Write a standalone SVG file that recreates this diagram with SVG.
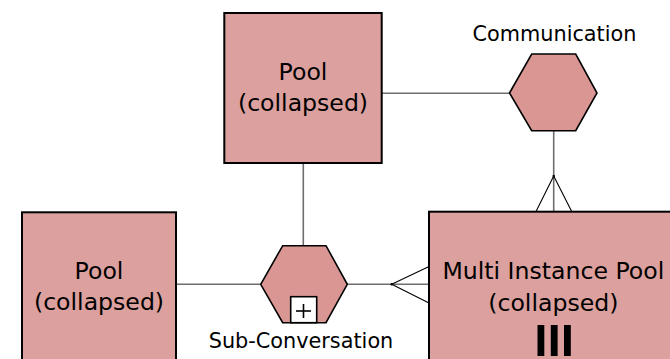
<svg xmlns="http://www.w3.org/2000/svg" width="670" height="359" viewBox="0 0 670 359">
<style>
.pool{fill:#dca19e;stroke:#000;stroke-width:2}
.hex{fill:#d99693;stroke:#000;stroke-width:1.6}
.conn{stroke:#6e6e6e;stroke-width:1.6;fill:none}
.crow{stroke:#000;stroke-width:1.1;fill:none}
.t{font-family:"DejaVu Sans",Verdana,sans-serif;font-size:23.6px;fill:#000;text-anchor:middle}
.lbl{font-family:"DejaVu Sans",Verdana,sans-serif;font-size:20.8px;fill:#000;text-anchor:middle}
</style>
<rect width="670" height="359" fill="#fff"/>
<g id="connectors">
<line class="conn" x1="382" y1="93.3" x2="509.5" y2="93.3"/>
<line class="conn" x1="303.3" y1="163" x2="303.3" y2="246"/>
<line class="conn" x1="176" y1="284.3" x2="261" y2="284.3"/>
<line class="conn" x1="553.7" y1="131" x2="553.7" y2="211"/>
<polyline class="crow" points="536,211.5 553.7,176 571.7,211.5"/>
<circle cx="553.7" cy="176" r="1.2" fill="#000"/>
<line class="conn" x1="347" y1="284.3" x2="429" y2="284.3"/>
<polyline class="crow" points="428.5,266.7 391.7,284.3 428.5,302.7"/>
<circle cx="391.7" cy="284.3" r="1.2" fill="#000"/>
</g>
<g id="pool-top">
<rect class="pool" x="224.3" y="13" width="157.4" height="150"/>
<text class="t" x="303" y="80">Pool</text>
<text class="t" x="303" y="111">(collapsed)</text>
</g>
<g id="pool-left">
<rect class="pool" x="22" y="212.3" width="154" height="150"/>
<text class="t" x="99" y="279">Pool</text>
<text class="t" x="99" y="310">(collapsed)</text>
</g>
<g id="pool-multi">
<rect class="pool" x="429" y="211.7" width="248" height="150"/>
<text class="t" x="553.3" y="279">Multi Instance Pool</text>
<text class="t" x="553.3" y="311">(collapsed)</text>
<rect x="537.5" y="325" width="6.8" height="31" fill="#000"/>
<rect x="550.8" y="325" width="6.8" height="31" fill="#000"/>
<rect x="564" y="325" width="6.8" height="31" fill="#000"/>
</g>
<g id="communication">
<polygon class="hex" points="509.5,93 531.7,54 575.7,54 597,93 575.7,130.7 531.7,130.7"/>
<text class="lbl" x="554.5" y="41">Communication</text>
</g>
<g id="sub-conversation">
<polygon class="hex" points="260.7,284.3 282.7,245.7 326,245.7 347.3,284.3 326,322.7 282.7,322.7"/>
<rect x="290.7" y="296.7" width="26" height="26" fill="#fff" stroke="#000" stroke-width="1.6"/>
<line x1="296" y1="311" x2="311" y2="311" stroke="#000" stroke-width="1.6"/>
<line x1="303.5" y1="304" x2="303.5" y2="318" stroke="#000" stroke-width="1.6"/>
<text class="lbl" x="301" y="347.5">Sub-Conversation</text>
</g>
</svg>
